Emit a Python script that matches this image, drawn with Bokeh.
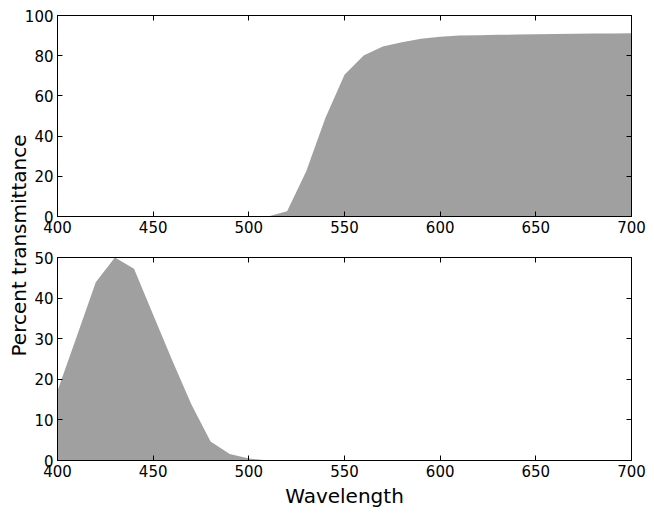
from bokeh.plotting import figure
from bokeh.layouts import column
from bokeh.models import Range1d, LinearAxis, FixedTicker, GridBox, Label
from bokeh.embed import file_html
from bokeh.resources import INLINE

# ---- data ----
wavelength = [400, 410, 420, 430, 440, 450, 460, 470, 480, 490, 500,
              510, 520, 530, 540, 550, 560, 570, 580, 590, 600,
              610, 620, 630, 640, 650, 660, 670, 680, 690, 700]
top_trans = [0, 0, 0, 0, 0, 0, 0, 0, 0, 0, 0,
             0, 2.6, 22.5, 49, 70.5, 80.1, 84.6, 86.7, 88.4, 89.4,
             90.0, 90.2, 90.4, 90.5, 90.7, 90.8, 90.9, 91.0, 91.1, 91.2]
bottom_trans = [17.2, 30.5, 43.9, 50.0, 47.2, 35.9, 24.6, 13.8, 4.7, 1.6, 0.5,
                0, 0, 0, 0, 0, 0, 0, 0, 0, 0,
                0, 0, 0, 0, 0, 0, 0, 0, 0, 0]
x_ticks = [400, 450, 500, 550, 600, 650, 700]
top_y_ticks = [0, 20, 40, 60, 80, 100]
bottom_y_ticks = [0, 10, 20, 30, 40, 50]
x_label = "Wavelength"
y_label = "Percent transmittance"

FONT = "DejaVu Sans"
FILL = "#a0a0a0"
PAGE_W, PAGE_H = 646, 514
LEFT, RIGHT, TOP, BOTTOM_B = 57, 15, 15, 54


def style_axis(ax, ticks, show_labels=True):
    ax.ticker = FixedTicker(ticks=ticks)
    ax.minor_tick_line_color = None
    ax.major_tick_in = 5
    ax.major_tick_out = 0
    ax.major_tick_line_color = "black"
    ax.axis_line_color = "black"
    ax.major_label_text_font = FONT
    ax.major_label_text_color = "black"
    if show_labels:
        ax.major_label_text_font_size = "15px"
        ax.major_label_standoff = 4
    else:
        ax.major_label_text_font_size = "0px"
        ax.major_label_standoff = 0
        ax.major_label_overrides = {t: "" for t in ticks}


def make_panel(y, y_end, y_ticks, height, b_top, b_bottom, xlabel=None):
    p = figure(width=PAGE_W, height=height, output_backend="svg", toolbar_location=None,
               x_range=Range1d(400, 700), y_range=Range1d(0, y_end),
               min_border_left=LEFT, min_border_right=RIGHT,
               min_border_top=b_top, min_border_bottom=b_bottom)
    p.border_fill_alpha = 0
    p.background_fill_color = "white"
    p.outline_line_color = "black"
    p.xgrid.visible = False
    p.ygrid.visible = False
    p.varea(x=wavelength, y1=0, y2=y, fill_color=FILL, fill_alpha=1)
    xb = p.xaxis[0]
    yl = p.yaxis[0]
    style_axis(xb, x_ticks)
    style_axis(yl, y_ticks)
    top_ax = LinearAxis()
    style_axis(top_ax, x_ticks, show_labels=False)
    p.add_layout(top_ax, "above")
    right_ax = LinearAxis()
    style_axis(right_ax, y_ticks, show_labels=False)
    p.add_layout(right_ax, "right")
    if xlabel:
        xb.axis_label = xlabel
        xb.axis_label_text_font = FONT
        xb.axis_label_text_font_size = "20px"
        xb.axis_label_text_font_style = "normal"
        xb.axis_label_text_color = "black"
        xb.axis_label_standoff = 4
    return p


top = make_panel(top_trans, 100, top_y_ticks, 249, TOP, 33)
bottom = make_panel(bottom_trans, 50, bottom_y_ticks, PAGE_H - 249, 8, BOTTOM_B, xlabel=x_label)

# transparent full-page overlay figure (no axes, frame = whole canvas) carrying the
# shared y label; wrapped in a column so the grid does not align its frame.
lab = figure(width=PAGE_W, height=PAGE_H, output_backend="svg", toolbar_location=None,
             x_axis_type=None, y_axis_type=None,
             x_range=Range1d(0, PAGE_W), y_range=Range1d(0, PAGE_H),
             min_border=0, min_border_left=0, min_border_right=0,
             min_border_top=0, min_border_bottom=0)
lab.grid.visible = False
lab.outline_line_color = None
lab.background_fill_alpha = 0
lab.border_fill_alpha = 0
lab.add_layout(Label(x=18.5, y=PAGE_H - 245, text=y_label, angle=1.5707963,
                     text_align="center", text_baseline="middle", text_font=FONT,
                     text_font_size="20px", text_color="black"))

grid = GridBox(children=[(top, 0, 0), (bottom, 1, 0), (column(lab), 0, 0, 2, 1)])

open("out.html", "w").write(file_html(grid, INLINE))
